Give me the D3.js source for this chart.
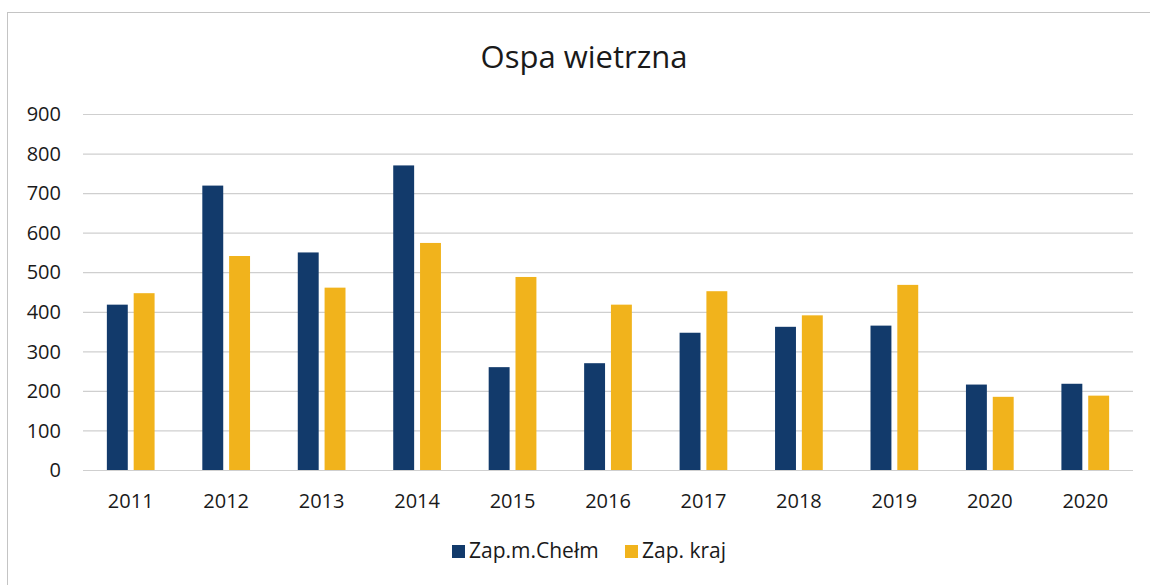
<!DOCTYPE html>
<html>
<head>
<meta charset="utf-8">
<script src="https://cdn.jsdelivr.net/npm/d3@7"></script>
<style>
  body { margin: 0; background: #fff; }
  text { font-family: "Open Sans", sans-serif; fill: #1a1a1a; }
</style>
</head>
<body>
<svg id="chart" width="1150" height="585"></svg>
<script>
// values
var years = ["2011", "2012", "2013", "2014", "2015", "2016", "2017", "2018", "2019", "2020", "2020"];
var chelm = [418, 719, 550, 770, 260, 270, 347, 362, 365, 216, 218];
var kraj = [447, 541, 461, 574, 488, 418, 452, 391, 468, 185, 188];
var seriesNames = ["Zap.m.Chełm", "Zap. kraj"];
var yTicks = [0, 100, 200, 300, 400, 500, 600, 700, 800, 900];

var colors = ["#123a6b", "#f1b31c"];

var svg = d3.select("#chart");

// frame of the scanned chart
svg.append("rect")
    .attr("x", 7.5).attr("y", 12.5)
    .attr("width", 1300).attr("height", 700)
    .attr("fill", "none")
    .attr("stroke", "#c4c4c4");

var plotLeft = 83, plotRight = 1133, plotTop = 114, plotBottom = 470;

var x0 = d3.scaleBand()
    .domain(d3.range(years.length))
    .range([plotLeft, plotRight])
    .paddingInner(0.5)
    .paddingOuter(0.25);

var x1 = d3.scaleBand()
    .domain([0, 1])
    .range([0, x0.bandwidth()])
    .paddingInner(0.22);

var y = d3.scaleLinear().domain([0, 900]).range([plotBottom, plotTop]);

// gridlines
svg.append("g")
    .selectAll("line")
    .data(yTicks)
    .join("line")
    .attr("x1", plotLeft).attr("x2", plotRight)
    .attr("y1", d => y(d) + 0.5).attr("y2", d => y(d) + 0.5)
    .attr("stroke", "#cfcfcf")
    .attr("stroke-width", 1.2);

// y tick labels
svg.append("g")
    .selectAll("text")
    .data(yTicks)
    .join("text")
    .attr("x", 61)
    .attr("y", d => y(d))
    .attr("dy", "0.36em")
    .attr("text-anchor", "end")
    .attr("font-size", 20)
    .text(d => d);

// bars
var rows = years.map((yr, i) => ({ i: i, vals: [chelm[i], kraj[i]] }));
var groups = svg.append("g")
    .selectAll("g")
    .data(rows)
    .join("g")
    .attr("transform", d => `translate(${x0(d.i)},0)`);

groups.selectAll("rect")
    .data(d => d.vals.map((v, k) => ({ k: k, v: v })))
    .join("rect")
    .attr("x", d => x1(d.k))
    .attr("width", x1.bandwidth())
    .attr("y", d => y(d.v))
    .attr("height", d => y(0) - y(d.v))
    .attr("fill", d => colors[d.k]);

// x labels
svg.append("g")
    .selectAll("text")
    .data(years)
    .join("text")
    .attr("x", (d, i) => x0(i) + x0.bandwidth() / 2)
    .attr("y", 508)
    .attr("text-anchor", "middle")
    .attr("font-size", 20)
    .text(d => d);

// title
svg.append("text")
    .attr("x", 584)
    .attr("y", 68)
    .attr("text-anchor", "middle")
    .attr("font-size", 31)
    .text("Ospa wietrzna");

// legend
var legend = svg.append("g");
var lx = [452, 625];
seriesNames.forEach(function(name, k) {
    legend.append("rect")
        .attr("x", lx[k]).attr("y", 545)
        .attr("width", 13).attr("height", 13)
        .attr("fill", colors[k]);
    legend.append("text")
        .attr("x", lx[k] + 17)
        .attr("y", 558)
        .attr("font-size", 21)
        .text(name);
});
</script>
</body>
</html>
